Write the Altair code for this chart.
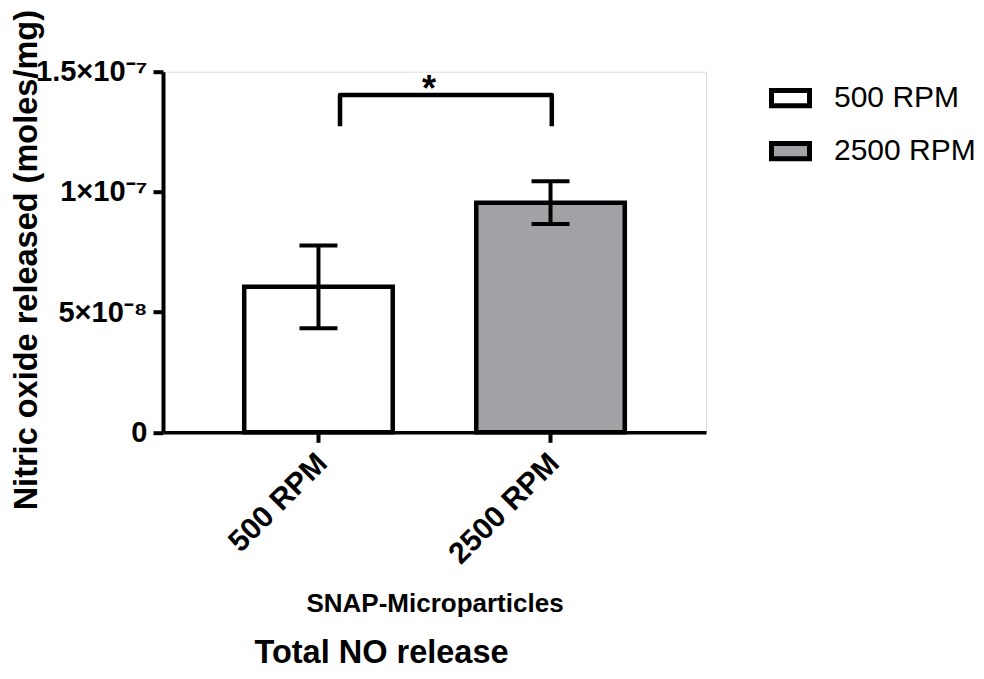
import altair as alt
import pandas as pd

FONT = "Liberation Sans"

categories = ["500 RPM", "2500 RPM"]
means = [6.05e-8, 9.55e-8]
errors = [1.72e-8, 0.89e-8]
fills = ["#ffffff", "#a2a1a6"]

ytick_values = [0, 5e-8, 1e-7, 1.5e-7]
ytick_labels = ["0", "5×10⁻⁸", "1×10⁻⁷", "1.5×10⁻⁷"]

# significance bracket (x as fraction of plot width)
bracket_x = [0.326, 0.326, 0.716, 0.716]
bracket_y = [1.273e-7, 1.403e-7, 1.403e-7, 1.273e-7]
star_x = [0.49]
star_y = [1.403e-7]
star_text = ["*"]

df = pd.DataFrame({"cat": categories, "mean": means, "err": errors})
df["lo"] = df["mean"] - df["err"]
df["hi"] = df["mean"] + df["err"]

bracket_df = pd.DataFrame({"bx": bracket_x, "by": bracket_y, "order": list(range(len(bracket_x)))})
star_df = pd.DataFrame({"sx": star_x, "sy": star_y, "t": star_text})

label_expr = "[" + ",".join("'" + s + "'" for s in ytick_labels) + "][round(datum.value / 5e-8)]"

y_scale = alt.Scale(domain=[0, 1.5e-7], nice=False, zero=True)
x_scale = alt.Scale(paddingInner=0.36, paddingOuter=0.35)

x_axis = alt.Axis(
    title="SNAP-Microparticles", titleFont=FONT, titleFontSize=26, titleFontWeight="bold",
    titleColor="black", titleY=179, titleBaseline="alphabetic",
    labelAngle=-45, labelAlign="right", labelBaseline="middle", labelFont=FONT,
    labelFontSize=30, labelFontWeight="bold", labelColor="black", labelPadding=16,
    labelOffset=4,
    tickSize=10, tickWidth=4, tickColor="black", domainColor="black", domainWidth=3.5,
    grid=False,
)
y_axis = alt.Axis(
    values=ytick_values, labelExpr=label_expr,
    title="Nitric oxide released (moles/mg)", titleFont=FONT, titleFontSize=32.5,
    titleFontWeight="bold", titleColor="black", titleX=-120, titleY=188,
    labelFont=FONT, labelFontSize=29, labelFontWeight="bold", labelColor="black",
    labelAlign="right", labelBaseline="middle", labelLimit=400,
    labelPadding=6, tickSize=10, tickWidth=4, tickColor="black",
    domainColor="black", domainWidth=4, grid=False,
)


def xcat():
    return alt.X("cat:N", sort=categories, scale=x_scale, axis=x_axis)


def yq(field):
    return alt.Y(field, type="quantitative", scale=y_scale, axis=y_axis)


bars = alt.Chart(df).mark_bar(stroke="black", strokeWidth=4.5).encode(
    x=xcat(),
    y=yq("mean"),
    fill=alt.Fill(
        "cat:N", sort=categories, scale=alt.Scale(domain=categories, range=fills),
        legend=alt.Legend(
            title=None, orient="none", legendX=606, legendY=5,
            symbolType="M-1,-0.4H1V0.4H-1Z", symbolSize=1444,
            symbolStrokeColor="black", symbolStrokeWidth=5, symbolOpacity=1,
            labelFont=FONT, labelFontSize=30, labelFontWeight="normal", labelColor="black",
            labelOffset=22, rowPadding=13, padding=0, labelLimit=400,
        ),
    ),
)

stems = alt.Chart(df).mark_rule(color="black", strokeWidth=4).encode(
    x=xcat(), y=yq("lo"), y2="hi:Q",
)
cap_hi = alt.Chart(df).mark_rule(color="black", strokeWidth=4, xOffset=-19, x2Offset=19).encode(
    x=xcat(), x2="cat:N", y=yq("hi"),
)
cap_lo = alt.Chart(df).mark_rule(color="black", strokeWidth=4, xOffset=-19, x2Offset=19).encode(
    x=xcat(), x2="cat:N", y=yq("lo"),
)

main = alt.layer(bars, stems, cap_hi, cap_lo)

ann_x_scale = alt.Scale(domain=[0, 1], nice=False, zero=False)
bracket = alt.Chart(bracket_df).mark_line(color="black", strokeWidth=4.5, strokeJoin="round").encode(
    x=alt.X("bx:Q", scale=ann_x_scale, axis=None),
    y=yq("by"),
    order="order:O",
)
star = alt.Chart(star_df).mark_text(
    font=FONT, fontSize=36, fontWeight="bold", color="black", baseline="alphabetic", dy=6
).encode(
    x=alt.X("sx:Q", scale=ann_x_scale, axis=None),
    y=yq("sy"),
    text="t:N",
)

chart = alt.layer(main, bracket, star).resolve_scale(x="independent").properties(
    width=543,
    height=360.6,
    autosize=alt.AutoSizeParams(type="none"),
    padding={"left": 155, "top": 63.7, "right": 270, "bottom": 238.7},
    title=alt.Title(
        "Total NO release", orient="bottom", anchor="middle", font=FONT, fontSize=32.5,
        fontWeight="bold", color="black", offset=21, dx=-53,
    ),
).configure_view(strokeWidth=0).configure(background="white").configure_axisY(
    labelFontSize=29, labelFont=FONT, labelFontWeight="bold"
)

chart.save("out.html", embed_options={"renderer": "svg", "actions": False})
